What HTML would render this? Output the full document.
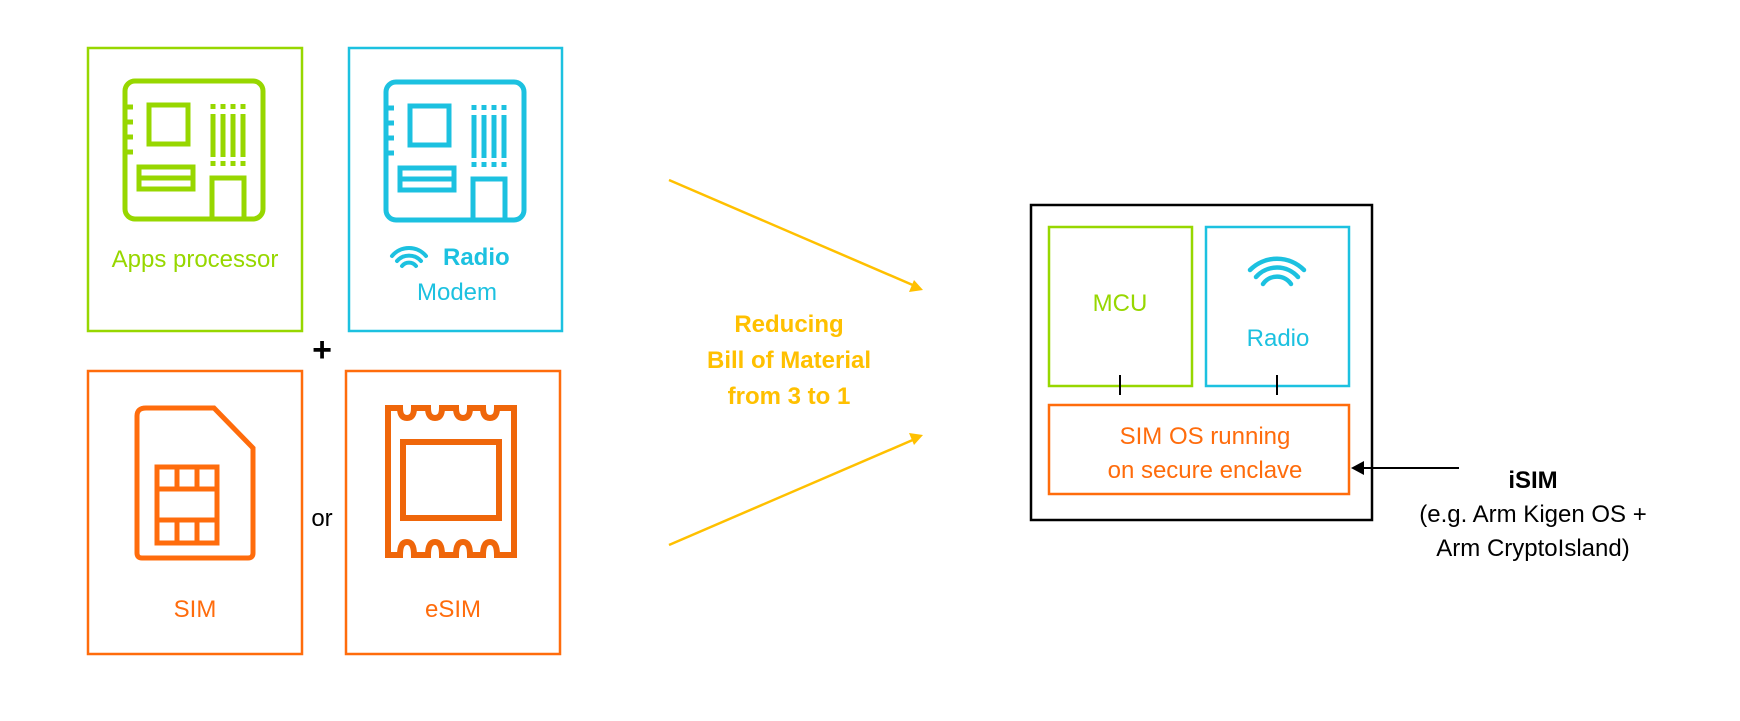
<!DOCTYPE html>
<html><head><meta charset="utf-8"><style>
html,body{margin:0;padding:0;background:#fff}
svg{display:block}
text{font-family:"Liberation Sans",sans-serif}
</style></head><body>
<svg width="1740" height="721" viewBox="0 0 1740 721" xmlns="http://www.w3.org/2000/svg">
<defs>
<g id="chip" fill="none" stroke-width="5">
  <rect x="125" y="81" width="138" height="138" rx="10"/>
  <rect x="149" y="105" width="39" height="39"/>
  <rect x="139" y="167" width="54" height="22"/>
  <line x1="139" y1="178" x2="193" y2="178"/>
  <path d="M212 219 V178 H244 V219"/>
  <g stroke-dasharray="5 4">
    <line x1="213" y1="104" x2="213" y2="112"/><line x1="223" y1="104" x2="223" y2="112"/>
    <line x1="233" y1="104" x2="233" y2="112"/><line x1="243" y1="104" x2="243" y2="112"/>
    <line x1="213" y1="161" x2="213" y2="168"/><line x1="223" y1="161" x2="223" y2="168"/>
    <line x1="233" y1="161" x2="233" y2="168"/><line x1="243" y1="161" x2="243" y2="168"/>
  </g>
  <line x1="213" y1="114" x2="213" y2="157"/><line x1="223" y1="114" x2="223" y2="157"/>
  <line x1="233" y1="114" x2="233" y2="157"/><line x1="243" y1="114" x2="243" y2="157"/>
  <line x1="125" y1="107" x2="133" y2="107"/><line x1="125" y1="122" x2="133" y2="122"/>
  <line x1="125" y1="137" x2="133" y2="137"/><line x1="125" y1="152" x2="133" y2="152"/>
</g>
</defs>

<!-- top-left boxes -->
<rect x="88" y="48" width="214" height="283" fill="none" stroke="#97d700" stroke-width="2.5"/>
<use href="#chip" stroke="#97d700"/>
<text x="195" y="267" font-size="24" fill="#97d700" text-anchor="middle">Apps processor</text>

<rect x="349" y="48" width="213" height="283" fill="none" stroke="#1cc1e0" stroke-width="2.5"/>
<use href="#chip" stroke="#1cc1e0" transform="translate(261,1)"/>
<g fill="none" stroke="#1cc1e0" stroke-width="4" stroke-linecap="round">
  <path d="M392 256 A22 22 0 0 1 426 256"/>
  <path d="M397 261 A16 16 0 0 1 421 261"/>
  <path d="M402 266 A9 9 0 0 1 416 266"/>
</g>
<text x="443" y="265" font-size="24" font-weight="bold" fill="#1cc1e0">Radio</text>
<text x="457" y="300" font-size="24" fill="#1cc1e0" text-anchor="middle">Modem</text>

<text x="322" y="361" font-size="34" font-weight="bold" fill="#000" text-anchor="middle">+</text>
<text x="322" y="526" font-size="24" fill="#000" text-anchor="middle">or</text>

<!-- SIM -->
<rect x="88" y="371" width="214" height="283" fill="none" stroke="#ff6c0c" stroke-width="2.5"/>
<g fill="none" stroke="#ff6c0c" stroke-width="5">
  <path d="M146 408 H214 L253 448 V553 Q253 558 248 558 H142 Q137 558 137 553 V416 Q137 408 146 408 Z"/>
  <rect x="157" y="467" width="60" height="76"/>
  <line x1="157" y1="489" x2="217" y2="489"/>
  <line x1="157" y1="520" x2="217" y2="520"/>
  <line x1="177" y1="467" x2="177" y2="489"/><line x1="197" y1="467" x2="197" y2="489"/>
  <line x1="177" y1="520" x2="177" y2="543"/><line x1="197" y1="520" x2="197" y2="543"/>
</g>
<text x="195" y="617" font-size="24" fill="#ff6c0c" text-anchor="middle">SIM</text>

<!-- eSIM -->
<rect x="346" y="371" width="214" height="283" fill="none" stroke="#ff6c0c" stroke-width="2.5"/>
<g fill="none" stroke="#ef660a" stroke-width="6">
  <path d="M388 408 H400 Q400 418 407 418 Q414 418 414 408 H428 Q428 418 435 418 Q442 418 442 408 H456 Q456 418 463 418 Q470 418 470 408 H483 Q483 418 490 418 Q497 418 497 408 H514 V555 H497 Q497 542 490 542 Q483 542 483 555 H470 Q470 542 463 542 Q456 542 456 555 H442 Q442 542 435 542 Q428 542 428 555 H414 Q414 542 407 542 Q400 542 400 555 H388 Z"/>
  <rect x="403" y="442" width="96" height="76"/>
</g>
<text x="453" y="617" font-size="24" fill="#ff6c0c" text-anchor="middle">eSIM</text>

<!-- yellow arrows -->
<g stroke="#ffc000" stroke-width="2.5" fill="#ffc000">
  <line x1="669" y1="180" x2="915" y2="286"/>
  <polygon points="923,290 909,292 914,280" stroke="none"/>
  <line x1="669" y1="545" x2="915" y2="439"/>
  <polygon points="923,435 914,445 909,433" stroke="none"/>
</g>
<g font-size="24" font-weight="bold" fill="#ffc000" text-anchor="middle">
  <text x="789" y="332">Reducing</text>
  <text x="789" y="368">Bill of Material</text>
  <text x="789" y="404">from 3 to 1</text>
</g>

<!-- right diagram -->
<rect x="1031" y="205" width="341" height="315" fill="none" stroke="#000" stroke-width="2.5"/>
<rect x="1049" y="227" width="143" height="159" fill="none" stroke="#97d700" stroke-width="2.5"/>
<rect x="1206" y="227" width="143" height="159" fill="none" stroke="#1cc1e0" stroke-width="2.5"/>
<rect x="1049" y="405" width="300" height="89" fill="none" stroke="#ff6c0c" stroke-width="2.5"/>
<line x1="1120" y1="375" x2="1120" y2="395" stroke="#000" stroke-width="2"/>
<line x1="1277" y1="375" x2="1277" y2="395" stroke="#000" stroke-width="2"/>
<text x="1120" y="311" font-size="24" fill="#97d700" text-anchor="middle">MCU</text>
<g fill="none" stroke="#1cc1e0" stroke-width="4.5" stroke-linecap="round">
  <path d="M1250 270 A38 38 0 0 1 1304 270" transform="translate(0,0)"/>
  <path d="M1256 277 A28 28 0 0 1 1298 277"/>
  <path d="M1263 284 A17 17 0 0 1 1291 284"/>
</g>
<text x="1278" y="346" font-size="24" fill="#1cc1e0" text-anchor="middle">Radio</text>
<g font-size="24" fill="#ff6c0c" text-anchor="middle">
  <text x="1205" y="444">SIM OS running</text>
  <text x="1205" y="478">on secure enclave</text>
</g>
<line x1="1459" y1="468" x2="1362" y2="468" stroke="#000" stroke-width="2"/>
<polygon points="1351,468 1364,461 1364,475" fill="#000"/>
<text x="1533" y="488" font-size="24" font-weight="bold" fill="#000" text-anchor="middle">iSIM</text>
<text x="1533" y="522" font-size="24" fill="#000" text-anchor="middle">(e.g. Arm Kigen OS +</text>
<text x="1533" y="556" font-size="24" fill="#000" text-anchor="middle">Arm CryptoIsland)</text>
</svg>
</body></html>
